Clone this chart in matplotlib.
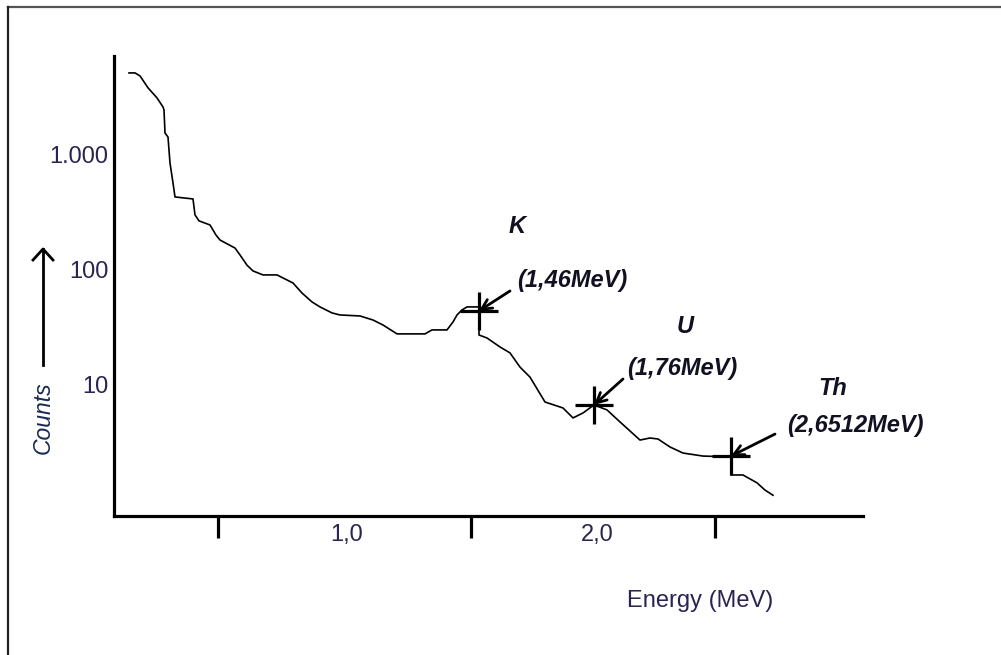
# Gamma spectrum sketch with K, U and Th peaks

import numpy as np
import matplotlib
matplotlib.use("Agg")
import matplotlib.pyplot as plt
from matplotlib.lines import Line2D

plt.rcParams['font.family'] = ['Liberation Sans', 'DejaVu Sans']

# spectrum (energy in MeV, counts)
energy = [0.128, 0.152, 0.172, 0.204, 0.240, 0.264, 0.268, 0.272, 0.284, 0.292,
          0.304, 0.312, 0.384, 0.392, 0.408, 0.452, 0.476, 0.492, 0.552, 0.572,
          0.600, 0.624, 0.664, 0.720, 0.784, 0.820, 0.860, 0.892, 0.940, 0.972,
          1.052, 1.104, 1.144, 1.200, 1.312, 1.340, 1.400, 1.424, 1.440, 1.460,
          1.480, 1.528, 1.528, 1.560, 1.612, 1.652, 1.692, 1.732, 1.792, 1.864,
          1.904, 1.944, 1.988, 2.040, 2.092, 2.172, 2.212, 2.244, 2.292, 2.344,
          2.424, 2.536, 2.536, 2.584, 2.640, 2.672, 2.704]
counts = [5160, 5160, 4860, 3830, 3130, 2610, 2460, 1550, 1430, 851,
          571, 431, 414, 301, 267, 246, 201, 182, 155, 135,
          110, 98, 90.5, 90.5, 77, 63, 52.7, 47.7, 42.3, 40.6,
          39.8, 36.7, 33.2, 27.8, 27.8, 30.1, 30.1, 35.3, 40.6, 44.9,
          47.7, 47.7, 27.2, 25.6, 21.4, 19.0, 14.3, 11.7, 7.11, 6.31,
          5.17, 5.71, 6.70, 6.07, 4.77, 3.32, 3.46, 3.39, 2.89, 2.56,
          2.41, 2.37, 1.65, 1.65, 1.41, 1.22, 1.10]

# marked peaks
peak_names = ["K", "U", "Th"]
peak_labels = ["(1,46MeV)", "(1,76MeV)", "(2,6512MeV)"]
peak_energy = [1.528, 1.988, 2.536]
peak_counts = [44, 6.7, 2.41]

# axis ticks
xtick_pos = [0.484, 1.496, 2.472]
xlabel_pos = [1.0, 2.0]
xlabel_text = ["1,0", "2,0"]
ytick_pos = [10, 100, 1000]
ytick_text = ["10", "100", "1.000"]

fig = plt.figure(figsize=(10.01, 6.55), dpi=100)
ax = fig.add_axes([114 / 1001, 1 - 516 / 655, 749 / 1001, 460 / 655])

ax.plot(energy, counts, color="black", linewidth=1.2)
ax.set_yscale("log")
ax.set_xlim(0.068, 3.064)
ax.set_ylim(0.726, 7240)

for s in ["top", "right"]:
    ax.spines[s].set_visible(False)
for s in ["left", "bottom"]:
    ax.spines[s].set_linewidth(2.3)

txt_color = "#2a2450"
ax.set_xticks(xtick_pos)
ax.set_xticklabels([])
ax.set_xticks(xlabel_pos, minor=True)
ax.set_xticklabels(xlabel_text, minor=True)
ax.tick_params(axis="x", which="major", length=16, width=2.3, direction="out")
ax.tick_params(axis="x", which="minor", length=0, pad=6, labelsize=17, labelcolor=txt_color)

ax.yaxis.set_minor_locator(matplotlib.ticker.NullLocator())
ax.set_yticks(ytick_pos)
ax.set_yticklabels(ytick_text)
ax.tick_params(axis="y", length=0, pad=4, labelsize=17, labelcolor=txt_color)

ax.set_xlabel("Energy (MeV)", fontsize=17, color=txt_color)
ax.xaxis.set_label_coords(0.782, -0.161)

# peak crosses, arrows and labels
arrow_off = [(31, 20), (29, 26), (44, 22)]
name_off = [(38, 84), (91, 78), (102, 68)]
label_off = [(93, 30), (88, 36), (124, 31)]
ax.plot(peak_energy, peak_counts, linestyle="none", marker="+",
        markersize=27, markeredgewidth=2.3, color="black")
for i in range(len(peak_names)):
    xy = (peak_energy[i], peak_counts[i])
    ax.annotate("", xy=xy, xytext=arrow_off[i], textcoords="offset pixels",
                arrowprops=dict(arrowstyle="->", color="black", lw=2,
                                mutation_scale=18, shrinkA=0, shrinkB=0))
    ax.annotate(peak_names[i], xy=xy, xytext=name_off[i], textcoords="offset pixels",
                ha="center", va="center", fontsize=17, fontweight="bold",
                fontstyle="italic", color="#111122")
    ax.annotate(peak_labels[i], xy=xy, xytext=label_off[i], textcoords="offset pixels",
                ha="center", va="center", fontsize=17, fontweight="bold",
                fontstyle="italic", color="#111122")

# Counts label with arrow
fig.text(43 / 1001, 1 - 418 / 655, "Counts", rotation=90, ha="center", va="center",
         fontsize=16.5, fontstyle="italic", color="#1a2a55")
fig.add_artist(Line2D([43 / 1001, 43 / 1001], [1 - 365 / 655, 1 - 249 / 655],
                      color="black", linewidth=2))
fig.add_artist(Line2D([33 / 1001, 43 / 1001, 53 / 1001],
                      [1 - 260 / 655, 1 - 249 / 655, 1 - 260 / 655],
                      color="black", linewidth=2))

# picture frame
fig.add_artist(Line2D([8 / 1001, 1], [1 - 7 / 655, 1 - 7 / 655], color="#555555", linewidth=1.6))
fig.add_artist(Line2D([8 / 1001, 8 / 1001], [0, 1 - 7 / 655], color="#222222", linewidth=1.6))

plt.savefig("out.png", dpi=100)
